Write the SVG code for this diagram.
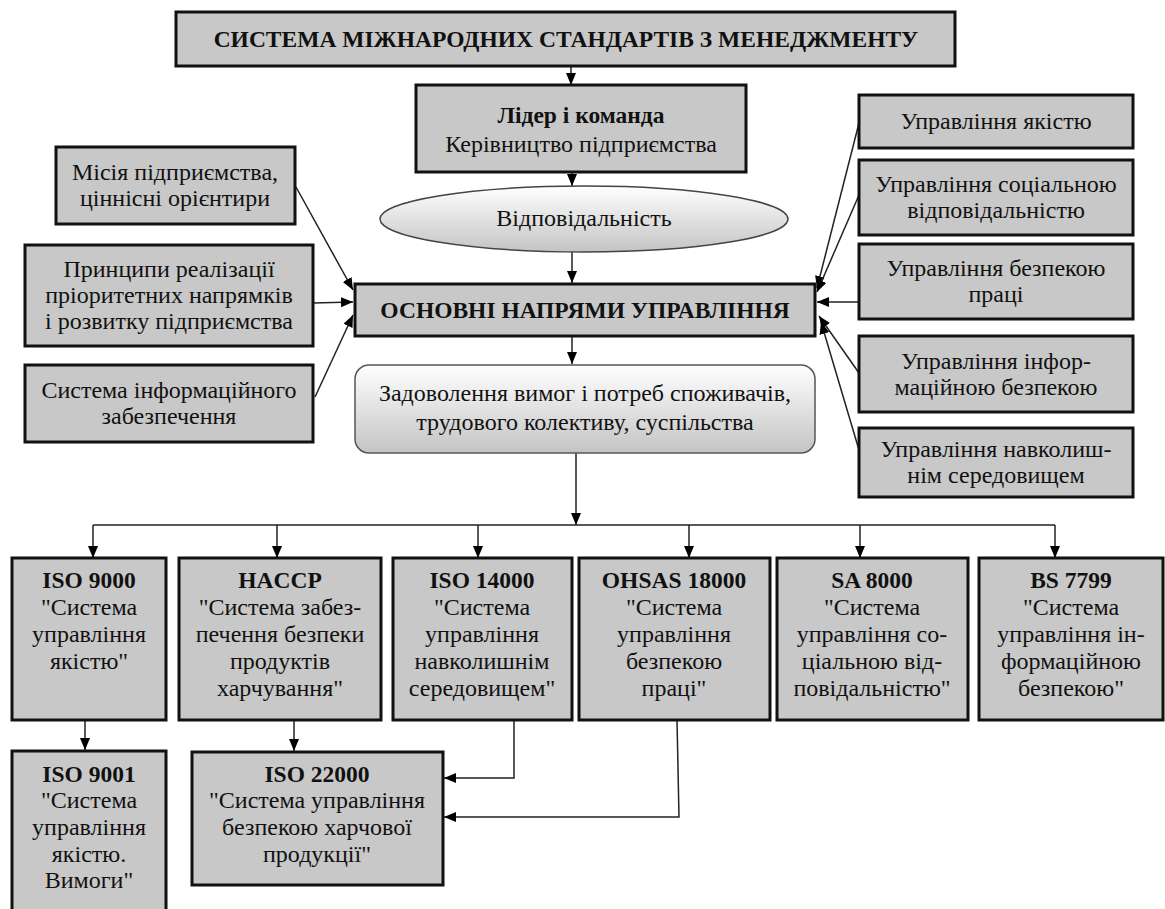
<svg xmlns="http://www.w3.org/2000/svg" width="1165" height="909" viewBox="0 0 1165 909" font-family="'Liberation Serif', 'Times New Roman', 'DejaVu Serif', serif">
<defs>
<style>
.bx{fill:#c8c8c8;stroke:#111;stroke-width:3}
text{font-family:'Liberation Serif','Times New Roman','DejaVu Serif',serif;font-size:24px;fill:#111;text-anchor:middle}
.b{font-weight:bold;font-size:23.5px}
.c{fill:none;stroke:#222;stroke-width:1.5}
.ca{fill:none;stroke:#222;stroke-width:1.5;marker-end:url(#ah)}
</style>
<marker id="ah" markerUnits="userSpaceOnUse" markerWidth="14" markerHeight="12" refX="12" refY="5" orient="auto">
<path d="M0,0 L12,5 L0,10 z" fill="#000"/>
</marker>
<linearGradient id="gr" x1="0" y1="0" x2="0" y2="1">
<stop offset="0" stop-color="#ffffff"/>
<stop offset="1" stop-color="#c4c4c4"/>
</linearGradient>
</defs>
<rect width="1165" height="909" fill="#fff"/>

<g id="connectors">
<path class="ca" d="M571,66 V85"/>
<path class="ca" d="M572,172 V186"/>
<path class="ca" d="M572,252 V283"/>
<path class="ca" d="M572,336 V364"/>
<path class="ca" d="M576,453 V525"/>
<path class="c" d="M93,525 H1055"/>
<path class="ca" d="M93,525 V558"/>
<path class="ca" d="M277,525 V558"/>
<path class="ca" d="M478,525 V558"/>
<path class="ca" d="M689,525 V558"/>
<path class="ca" d="M860,525 V558"/>
<path class="ca" d="M1055,525 V558"/>
<path class="ca" d="M85,720 V750"/>
<path class="ca" d="M294,720 V751"/>
<path class="ca" d="M514,720 V778 H444"/>
<path class="ca" d="M677,720 L679,817 H444"/>
<path class="ca" d="M296,187 L353,290"/>
<path class="ca" d="M313,303 L353,302"/>
<path class="ca" d="M315,397 L353,315"/>
<path class="ca" d="M859,123 L817,288"/>
<path class="ca" d="M859,195 L817,292"/>
<path class="ca" d="M859,302 L817,302"/>
<path class="ca" d="M859,373 L819,316"/>
<path class="ca" d="M859,450 L821,322"/>
</g>

<g id="n-top"><rect class="bx" x="176" y="12" width="779" height="54"/>
<text class="b" x="566" y="47">СИСТЕМА МІЖНАРОДНИХ СТАНДАРТІВ З МЕНЕДЖМЕНТУ</text></g>

<g id="n-lider"><rect class="bx" x="416" y="85" width="330" height="87"/>
<text class="b" x="581" y="123">Лідер і команда</text>
<text x="581" y="152">Керівництво підприємства</text></g>

<g id="n-vidp"><ellipse cx="584" cy="219" rx="204" ry="33" fill="url(#gr)" stroke="#444" stroke-width="1.5"/>
<text x="584" y="226">Відповідальність</text></g>

<g id="n-osn"><rect class="bx" x="355" y="284" width="460" height="52"/>
<text class="b" x="585" y="318">ОСНОВНІ НАПРЯМИ УПРАВЛІННЯ</text></g>

<g id="n-zad"><rect x="355" y="365" width="460" height="88" rx="14" fill="url(#gr)" stroke="#555" stroke-width="1.5"/>
<text x="585" y="401">Задоволення вимог і потреб споживачів,</text>
<text x="585" y="430">трудового колективу, суспільства</text></g>

<g id="n-misia"><rect class="bx" x="56" y="147" width="239" height="77"/>
<text x="175" y="180">Місія підприємства,</text>
<text x="175" y="206">ціннісні орієнтири</text></g>

<g id="n-pryntsypy"><rect class="bx" x="25" y="245" width="288" height="101"/>
<text x="169" y="277">Принципи реалізації</text>
<text x="169" y="303">пріоритетних напрямків</text>
<text x="169" y="329">і розвитку підприємства</text></g>

<g id="n-systema"><rect class="bx" x="25" y="365" width="288" height="77"/>
<text x="169" y="398">Система інформаційного</text>
<text x="169" y="424">забезпечення</text></g>

<g id="n-r1"><rect class="bx" x="859" y="95" width="274" height="53"/>
<text x="996" y="129">Управління якістю</text></g>

<g id="n-r2"><rect class="bx" x="859" y="160" width="274" height="75"/>
<text x="996" y="192">Управління соціальною</text>
<text x="996" y="218">відповідальністю</text></g>

<g id="n-r3"><rect class="bx" x="859" y="244" width="274" height="75"/>
<text x="996" y="276">Управління безпекою</text>
<text x="996" y="302">праці</text></g>

<g id="n-r4"><rect class="bx" x="859" y="336" width="274" height="76"/>
<text x="996" y="369">Управління інфор-</text>
<text x="996" y="395">маційною безпекою</text></g>

<g id="n-r5"><rect class="bx" x="859" y="428" width="274" height="69"/>
<text x="996" y="457">Управління навколиш-</text>
<text x="996" y="483">нім середовищем</text></g>

<g id="n-iso9000"><rect class="bx" x="12" y="558" width="154" height="162"/>
<text class="b" x="89" y="588">ISO 9000</text>
<text x="89" y="615">"Система</text>
<text x="89" y="642">управління</text>
<text x="89" y="669">якістю"</text></g>

<g id="n-haccp"><rect class="bx" x="179" y="558" width="202" height="162"/>
<text class="b" x="280" y="588">HACCP</text>
<text x="280" y="615">"Система забез-</text>
<text x="280" y="642">печення безпеки</text>
<text x="280" y="669">продуктів</text>
<text x="280" y="696">харчування"</text></g>

<g id="n-iso14000"><rect class="bx" x="393" y="558" width="179" height="162"/>
<text class="b" x="482" y="588">ISO 14000</text>
<text x="482" y="615">"Система</text>
<text x="482" y="642">управління</text>
<text x="482" y="669">навколишнім</text>
<text x="482" y="696">середовищем"</text></g>

<g id="n-ohsas"><rect class="bx" x="579" y="558" width="191" height="162"/>
<text class="b" x="674" y="588">OHSAS 18000</text>
<text x="674" y="615">"Система</text>
<text x="674" y="642">управління</text>
<text x="674" y="669">безпекою</text>
<text x="674" y="696">праці"</text></g>

<g id="n-sa8000"><rect class="bx" x="777" y="558" width="191" height="162"/>
<text class="b" x="872" y="588">SA 8000</text>
<text x="872" y="615">"Система</text>
<text x="872" y="642">управління со-</text>
<text x="872" y="669">ціальною від-</text>
<text x="872" y="696">повідальністю"</text></g>

<g id="n-bs7799"><rect class="bx" x="979" y="558" width="184" height="162"/>
<text class="b" x="1071" y="588">BS 7799</text>
<text x="1071" y="615">"Система</text>
<text x="1071" y="642">управління ін-</text>
<text x="1071" y="669">формаційною</text>
<text x="1071" y="696">безпекою"</text></g>

<g id="n-iso9001"><rect class="bx" x="12" y="751" width="154" height="165"/>
<text class="b" x="89" y="782">ISO 9001</text>
<text x="89" y="808">"Система</text>
<text x="89" y="835">управління</text>
<text x="89" y="862">якістю.</text>
<text x="89" y="888">Вимоги"</text></g>

<g id="n-iso22000"><rect class="bx" x="192" y="752" width="251" height="133"/>
<text class="b" x="317" y="782">ISO 22000</text>
<text x="317" y="808">"Система управління</text>
<text x="317" y="835">безпекою харчової</text>
<text x="317" y="862">продукції"</text></g>
</svg>
